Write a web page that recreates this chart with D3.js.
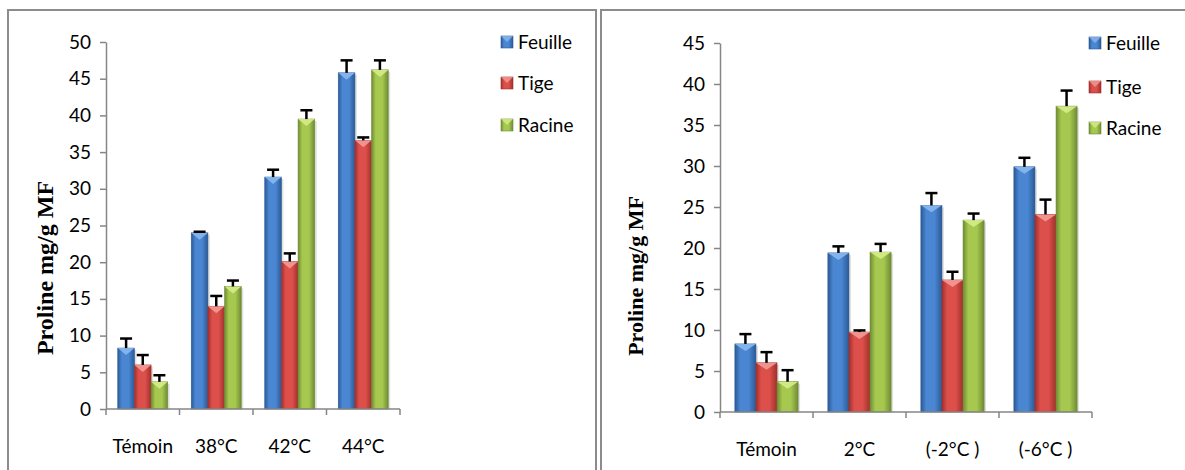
<!DOCTYPE html>
<html>
<head>
<meta charset="utf-8">
<script src="https://cdn.jsdelivr.net/npm/d3@7"></script>
<style>
  body { margin: 0; background: #fff; }
  svg { display: block; }
</style>
</head>
<body>
<script>
// series names and colours
var series = ["Feuille", "Tige", "Racine"];

// left chart: heat stress
var heatCategories = ["Témoin", "38°C", "42°C", "44°C"];
var heatFeuille = [8.3, 24.0, 31.6, 45.8];
var heatTige = [6.0, 14.0, 20.1, 36.6];
var heatRacine = [3.7, 16.7, 39.5, 46.2];
var heatErrFeuille = [1.3, 0.15, 1.0, 1.7];
var heatErrTige = [1.35, 1.4, 1.1, 0.4];
var heatErrRacine = [0.9, 0.8, 1.2, 1.3];
var heatTicks = [0, 5, 10, 15, 20, 25, 30, 35, 40, 45, 50];

// right chart: cold stress
var coldCategories = ["Témoin", "2°C", "(-2°C )", "(-6°C )"];
var coldFeuille = [8.3, 19.4, 25.2, 29.9];
var coldTige = [6.0, 9.75, 16.1, 24.1];
var coldRacine = [3.7, 19.5, 23.4, 37.3];
var coldErrFeuille = [1.2, 0.8, 1.5, 1.1];
var coldErrTige = [1.3, 0.2, 1.0, 1.8];
var coldErrRacine = [1.4, 1.0, 0.8, 1.9];
var coldTicks = [0, 5, 10, 15, 20, 25, 30, 35, 40, 45];

var palette = {
  Feuille: {dark: "#2b5a96", mid: "#4a86d2", light: "#8ab8ee"},
  Tige:    {dark: "#a0302d", mid: "#dc4f4a", light: "#f29a96"},
  Racine:  {dark: "#6f8c35", mid: "#a6c84f", light: "#d6ec88"}
};

var W = 1185, H = 470;
var svg = d3.select("body").append("svg")
    .attr("width", W)
    .attr("height", H);

var defs = svg.append("defs");
series.forEach(function(s) {
  var c = palette[s];
  var g = defs.append("linearGradient")
      .attr("id", "grad-" + s)
      .attr("x1", "0%").attr("x2", "100%").attr("y1", "0%").attr("y2", "0%");
  g.append("stop").attr("offset", "0%").attr("stop-color", c.dark);
  g.append("stop").attr("offset", "25%").attr("stop-color", c.mid);
  g.append("stop").attr("offset", "65%").attr("stop-color", c.mid);
  g.append("stop").attr("offset", "100%").attr("stop-color", c.dark);
});

// panel frames
svg.append("path")
    .attr("d", "M8," + H + "V10H596V" + H)
    .attr("fill", "none").attr("stroke", "#8c8c8c").attr("stroke-width", 2);
svg.append("path")
    .attr("d", "M601," + H + "V10H" + W)
    .attr("fill", "none").attr("stroke", "#8c8c8c").attr("stroke-width", 2);

var sans = "Lato, 'Open Sans', sans-serif";

function drawChart(cfg) {
  var g = svg.append("g");

  var y = d3.scaleLinear()
      .domain([0, cfg.ymax])
      .range([cfg.bottom, cfg.top]);

  var x0 = d3.scaleBand()
      .domain(cfg.categories)
      .range([cfg.left, cfg.right])
      .paddingInner(0.32)
      .paddingOuter(0.16);

  var x1 = d3.scaleBand()
      .domain(series)
      .range([0, x0.bandwidth()]);

  var rows = [];
  cfg.categories.forEach(function(cat, i) {
    series.forEach(function(s, j) {
      rows.push({cat: cat, s: s, v: cfg.values[j][i], e: cfg.errors[j][i]});
    });
  });

  // shadows
  g.selectAll(".shadow")
      .data(rows)
    .enter().append("rect")
      .attr("class", "shadow")
      .attr("x", function(d) { return x0(d.cat) + x1(d.s) + 2; })
      .attr("y", function(d) { return y(d.v) + 2; })
      .attr("width", x1.bandwidth())
      .attr("height", function(d) { return cfg.bottom - y(d.v) - 2; })
      .attr("fill", "#000")
      .attr("opacity", 0.12);

  // bars
  g.selectAll(".bar")
      .data(rows)
    .enter().append("rect")
      .attr("class", "bar")
      .attr("x", function(d) { return x0(d.cat) + x1(d.s); })
      .attr("y", function(d) { return y(d.v); })
      .attr("width", x1.bandwidth())
      .attr("height", function(d) { return cfg.bottom - y(d.v); })
      .attr("fill", function(d) { return "url(#grad-" + d.s + ")"; })
      .attr("stroke", function(d) { return palette[d.s].dark; })
      .attr("stroke-width", 0.6);

  // bevel triangle on top of each bar
  g.selectAll(".bevel")
      .data(rows)
    .enter().append("path")
      .attr("class", "bevel")
      .attr("d", function(d) {
        var bx = x0(d.cat) + x1(d.s), by = y(d.v), bw = x1.bandwidth();
        return "M" + bx + "," + by + "H" + (bx + bw) + "L" + (bx + bw / 2) + "," + (by + 7) + "Z";
      })
      .attr("fill", function(d) { return palette[d.s].light; })
      .attr("opacity", 0.9);

  // error bars (upper only)
  var err = g.selectAll(".err")
      .data(rows)
    .enter().append("g")
      .attr("class", "err")
      .attr("stroke", "#000");
  err.append("line")
      .attr("x1", function(d) { return x0(d.cat) + x1(d.s) + x1.bandwidth() / 2; })
      .attr("x2", function(d) { return x0(d.cat) + x1(d.s) + x1.bandwidth() / 2; })
      .attr("y1", function(d) { return y(d.v); })
      .attr("y2", function(d) { return y(d.v + d.e); })
      .attr("stroke-width", 2.5);
  err.append("line")
      .attr("x1", function(d) { return x0(d.cat) + x1(d.s) + x1.bandwidth() / 2 - 6; })
      .attr("x2", function(d) { return x0(d.cat) + x1(d.s) + x1.bandwidth() / 2 + 6; })
      .attr("y1", function(d) { return y(d.v + d.e); })
      .attr("y2", function(d) { return y(d.v + d.e); })
      .attr("stroke-width", 2.5);

  // y axis
  var yAxis = g.append("g")
      .attr("transform", "translate(" + cfg.left + ",0)")
      .call(d3.axisLeft(y).tickValues(cfg.ticks).tickSize(6).tickPadding(9).tickSizeOuter(0));
  yAxis.select(".domain").attr("stroke", "#868686").attr("stroke-width", 1.5);
  yAxis.selectAll(".tick line").attr("stroke", "#868686").attr("stroke-width", 1.5);
  yAxis.selectAll(".tick text")
      .attr("font-family", sans)
      .attr("font-size", 19)
      .attr("fill", "#000");

  // x axis: ticks at category boundaries
  var xAxisG = g.append("g");
  xAxisG.append("line")
      .attr("x1", cfg.left).attr("x2", cfg.right)
      .attr("y1", cfg.bottom).attr("y2", cfg.bottom)
      .attr("stroke", "#868686").attr("stroke-width", 1.5);
  var bounds = cfg.categories.map(function(c) { return x0(c) - x0.step() * 0.16; });
  bounds.push(cfg.right);
  xAxisG.selectAll(".xt")
      .data(bounds)
    .enter().append("line")
      .attr("x1", function(d) { return d; }).attr("x2", function(d) { return d; })
      .attr("y1", cfg.bottom).attr("y2", cfg.bottom + 6)
      .attr("stroke", "#868686").attr("stroke-width", 1.5);
  xAxisG.selectAll(".xl")
      .data(cfg.categories)
    .enter().append("text")
      .attr("x", function(d) { return x0(d) + x0.bandwidth() / 2; })
      .attr("y", cfg.bottom + 44)
      .attr("text-anchor", "middle")
      .attr("font-family", sans)
      .attr("font-size", 19)
      .text(function(d) { return d; });

  // y label
  g.append("text")
      .attr("transform", "translate(" + cfg.labelX + "," + cfg.labelY + ") rotate(-90)")
      .attr("text-anchor", "middle")
      .attr("font-family", "'Liberation Serif', 'Times New Roman', serif")
      .attr("font-weight", "bold")
      .attr("font-size", cfg.labelSize)
      .text("Proline mg/g MF");

  // legend
  var leg = g.selectAll(".leg")
      .data(series)
    .enter().append("g")
      .attr("class", "leg")
      .attr("transform", function(d, i) { return "translate(" + cfg.legX + "," + cfg.legY[i] + ")"; });
  leg.append("rect")
      .attr("x", 0).attr("y", -6)
      .attr("width", 12).attr("height", 12)
      .attr("fill", function(d) { return "url(#grad-" + d + ")"; })
      .attr("stroke", function(d) { return palette[d].dark; })
      .attr("stroke-width", 0.6);
  leg.append("path")
      .attr("d", "M0,-6H12L6,0Z")
      .attr("fill", function(d) { return palette[d].light; })
      .attr("opacity", 0.8);
  leg.append("text")
      .attr("x", 17).attr("y", 7)
      .attr("font-family", sans)
      .attr("font-size", 19)
      .text(function(d) { return d; });
}

drawChart({
  categories: heatCategories,
  values: [heatFeuille, heatTige, heatRacine],
  errors: [heatErrFeuille, heatErrTige, heatErrRacine],
  ticks: heatTicks,
  ymax: 50,
  left: 106, right: 400, top: 42, bottom: 409,
  labelX: 53, labelY: 268, labelSize: 24,
  legX: 501, legY: [42, 83, 125]
});

drawChart({
  categories: coldCategories,
  values: [coldFeuille, coldTige, coldRacine],
  errors: [coldErrFeuille, coldErrTige, coldErrRacine],
  ticks: coldTicks,
  ymax: 45,
  left: 720, right: 1092, top: 43, bottom: 412,
  labelX: 643, labelY: 276, labelSize: 22,
  legX: 1089, legY: [43, 87, 128]
});
</script>
</body>
</html>
